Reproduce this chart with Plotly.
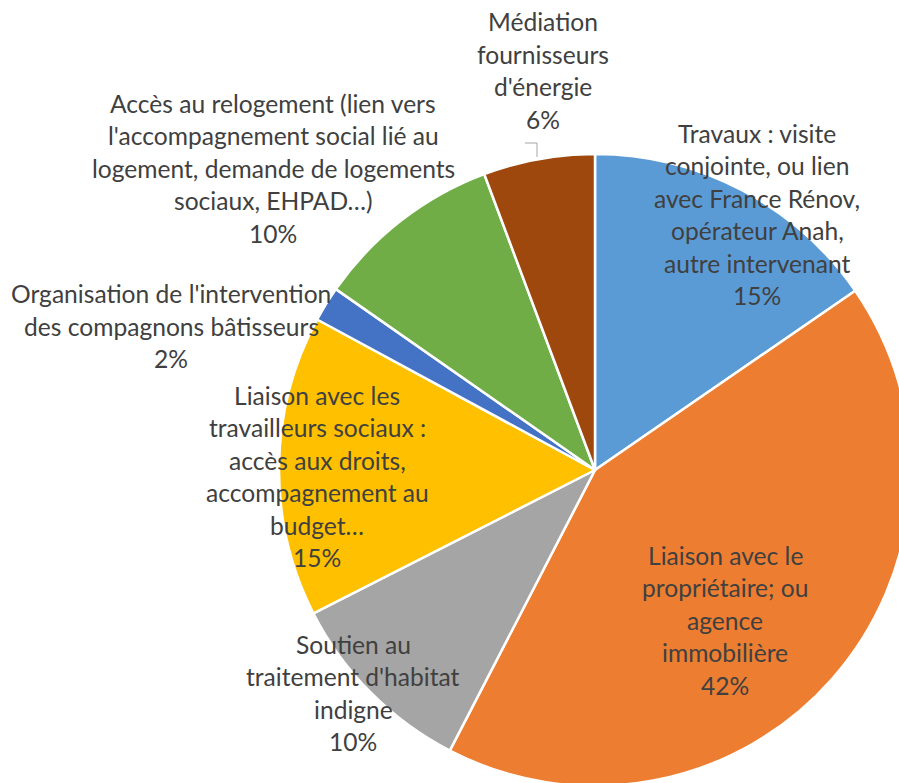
import plotly.graph_objects as go

# ---- data ----
categories = [
    "Travaux : visite conjointe, ou lien avec France Rénov, opérateur Anah, autre intervenant",
    "Liaison avec le propriétaire; ou agence immobilière",
    "Soutien au traitement d'habitat indigne",
    "Liaison avec les travailleurs sociaux : accès aux droits, accompagnement au budget…",
    "Organisation de l'intervention des compagnons bâtisseurs",
    "Accès au relogement (lien vers l'accompagnement social lié au logement, demande de logements sociaux, EHPAD…)",
    "Médiation fournisseurs d'énergie",
]
values = [15.4, 42.2, 9.9, 15.4, 1.8, 9.6, 5.7]
label_lines = [
    ["Travaux : visite", "conjointe, ou lien", "avec France Rénov,", "opérateur Anah,", "autre intervenant"],
    ["Liaison avec le", "propriétaire; ou", "agence", "immobilière"],
    ["Soutien au", "traitement d'habitat", "indigne"],
    ["Liaison avec les", "travailleurs sociaux :", "accès aux droits,", "accompagnement au", "budget…"],
    ["Organisation de l'intervention", "des compagnons bâtisseurs"],
    ["Accès au relogement (lien vers", "l'accompagnement social lié au", "logement, demande de logements", "sociaux, EHPAD…)"],
    ["Médiation", "fournisseurs", "d'énergie"],
]
colors = ["#5B9BD5", "#ED7D31", "#A5A5A5", "#FFC000", "#4472C4", "#70AD47", "#9E480E"]

# ---- layout geometry (pixels) ----
W, H = 920, 800
cx, cy, R = 595, 470, 316
# label anchor: (center x, first line center y)
label_pos = [(757, 133.5), (725, 555.5), (353, 644.5), (317, 395.5),
             (171, 294), (273, 103.5), (543, 22)]
line_step = 32.4

def px(x):
    return x / W

def py(y):
    return 1 - y / H

fig = go.Figure(go.Pie(
    labels=categories,
    values=values,
    sort=False,
    direction="clockwise",
    rotation=0,
    marker=dict(colors=colors, line=dict(color="white", width=2.5)),
    textinfo="none",
    hoverinfo="label+percent",
    showlegend=False,
    domain=dict(x=[px(cx - R), px(cx + R)], y=[py(cy + R), py(cy - R)]),
))

total = sum(values)
annotations = []
for lines, v, (lx, ly) in zip(label_lines, values, label_pos):
    all_lines = lines + [f"{round(v / total * 100)}%"]
    for i, t in enumerate(all_lines):
        annotations.append(dict(
            x=px(lx), y=py(ly + i * line_step), xref="paper", yref="paper",
            text=t, showarrow=False, xanchor="center", yanchor="middle",
            font=dict(family="Lato", size=24.6, color="#404040"),
        ))

fig.update_layout(
    width=W, height=H, autosize=False,
    margin=dict(l=0, r=0, t=0, b=0),
    paper_bgcolor="white", plot_bgcolor="white",
    annotations=annotations,
    shapes=[dict(type="path", xref="paper", yref="paper",
                 path=f"M {px(525)} {py(143)} L {px(537)} {py(143)} L {px(537)} {py(157)}",
                 line=dict(color="#A6A6A6", width=1))],
)

fig.write_html(
    "out.html",
    config={"displayModeBar": False},
    post_script="document.body.style.margin='0';document.body.style.overflow='hidden';"
                "document.documentElement.style.overflow='hidden';",
)
